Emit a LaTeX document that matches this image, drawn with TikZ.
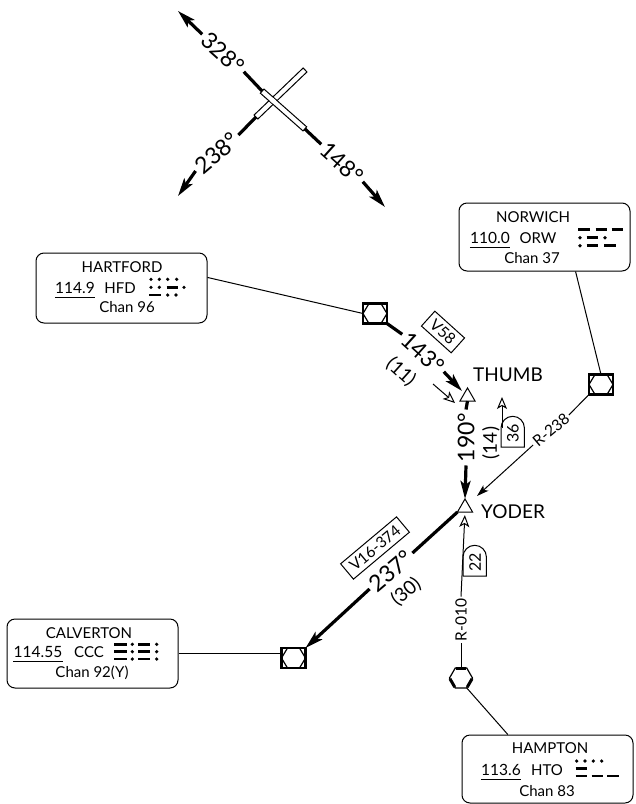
\documentclass[tikz,border=0pt]{standalone}
\usepackage{fontspec}
\setmainfont{Lato}
\usetikzlibrary{arrows.meta,shapes.geometric}
\tikzset{
    course/.style={line width=3.2pt},
    dah/.style={line width=2.8pt},
    radial/.style={line width=1pt},
    solidhead/.style={-{Stealth[length=18pt,width=10pt,inset=4pt]}},
    thinhead/.style={-{Stealth[length=12pt,width=7.5pt,inset=3pt]}},
    openhead/.style={-{Stealth[length=12pt,width=10pt,inset=3pt,fill=white]}},
    stationbox/.style={draw, line width=1pt, rounded corners=8pt, inner sep=0pt},
    stationtxt/.style={anchor=base, inner sep=0pt, font=\fontsize{15}{18}\selectfont},
    freqtxt/.style={anchor=base, inner xsep=0pt, inner ysep=4pt, font=\fontsize{15.5}{18}\selectfont},
    coursetxt/.style={inner sep=3pt, font=\fontsize{23}{25}\selectfont},
    disttxt/.style={inner sep=1pt, font=\fontsize{19}{21}\selectfont},
    airway/.style={draw, line width=1pt, inner sep=0pt, minimum height=20pt, font=\fontsize{15.5}{17}\selectfont},
    radialtxt/.style={inner sep=2pt, font=\fontsize{15.5}{17}\selectfont},
    fixtxt/.style={anchor=west, inner sep=0pt, font=\fontsize{19}{21}\selectfont},
    fixmark/.style={draw, line width=1pt, regular polygon, regular polygon sides=3, minimum size=17.5pt, inner sep=0pt, outer sep=0pt},
    strip/.style={draw, fill=white, line width=1pt, minimum height=5.5pt, inner sep=0pt, outer sep=0pt},
    vordme/.style={draw, line width=2.8pt, minimum width=24pt, minimum height=20pt, inner sep=0pt, outer sep=0pt,
        path picture={\draw[line width=1.2pt]
            ([xshift=6pt]path picture bounding box.north west) -- ([xshift=-6pt]path picture bounding box.north east)
            -- (path picture bounding box.east) -- ([xshift=-6pt]path picture bounding box.south east)
            -- ([xshift=6pt]path picture bounding box.south west) -- (path picture bounding box.west) -- cycle;}},
}
\begin{document}
\begin{tikzpicture}[x=1pt,y=-1pt]
    \useasboundingbox (0,0) rectangle (636,804);

    % Runway
    \node[strip, minimum width=68pt, rotate=43.8] (rwy b) at (280.5,93.5) {};
    \node[strip, minimum width=57pt, rotate=-41.5] (rwy a) at (283.5,110) {};
    \node[fill=white, minimum size=4.4pt, inner sep=0pt, rotate=-41.5] (rwy mid) at (273,100.7) {};

    % Runway courses
    \node[coursetxt, rotate=-42] (c328) at (223,53) {328°};
    \node[coursetxt, rotate=40] (c238) at (217,153) {238°};
    \node[coursetxt, rotate=-42] (c148) at (342,163) {148°};
    \coordinate (tip328) at (178,11);
    \coordinate (tip238) at (178,196);
    \coordinate (tip148) at (385,207);
    \draw[course] (rwy a.west) -- (c328.east);
    \draw[course, solidhead] (c328.west) -- (tip328);
    \draw[course] (rwy b.west) -- (c238.east);
    \draw[course, solidhead] (c238.west) -- (tip238);
    \draw[course] (rwy a.east) -- (c148.west);
    \draw[course, solidhead] (c148.east) -- (tip148);

    % Station boxes
    \node[stationbox, minimum width=171pt, minimum height=70pt] (hartford) at (121.5,288) {};
    \node[stationbox, minimum width=171pt, minimum height=68pt] (norwich) at (544.5,237) {};
    \node[stationbox, minimum width=171pt, minimum height=69pt] (calverton) at (92.5,653.5) {};
    \node[stationbox, minimum width=171pt, minimum height=68pt] (hampton) at (547.5,769) {};

    % Station texts
    \node[stationtxt] (hartford name) at (122,272.5) {HARTFORD};
    \node[freqtxt] (hartford freq) at (75,293) {114.9};
    \node[stationtxt] (hartford id) at (120,293) {HFD};
    \node[stationtxt] (hartford chan) at (127,312.5) {Chan 96};
    \node[stationtxt] (norwich name) at (533,222.5) {NORWICH};
    \node[freqtxt] (norwich freq) at (490,243) {110.0};
    \node[stationtxt] (norwich id) at (538,243) {ORW};
    \node[stationtxt] (norwich chan) at (532,263.5) {Chan 37};
    \node[stationtxt] (calverton name) at (89,638.5) {CALVERTON};
    \node[freqtxt] (calverton freq) at (38,657) {114.55};
    \node[stationtxt] (calverton id) at (89,657) {CCC};
    \node[stationtxt] (calverton chan) at (92,677.5) {Chan 92(Y)};
    \node[stationtxt] (hampton name) at (550,753.5) {HAMPTON};
    \node[freqtxt] (hampton freq) at (501,775) {113.6};
    \node[stationtxt] (hampton id) at (547,775) {HTO};
    \node[stationtxt] (hampton chan) at (547,796.5) {Chan 83};
    \foreach \st in {hartford,norwich,calverton,hampton} {
        \draw[line width=1pt] (\st\space freq.south west) -- (\st\space freq.south east);
    }

    % Morse idents
    \foreach \x/\y in {151/279.3,159.3/279.3,167.7/279.3,176.7/279.3,151/287.3,159.3/287.3,184/287.3,167.7/295,176/295,
        580/237.7,605/237.7,580/245.7,
        132.3/644.3,156.7/644.3,132.3/651.7,156.7/651.7,132.3/659,156.7/659,
        576.7/761,585/761,593.3/761,601.7/761} {
        \fill (\x,\y) circle (1.8);
    }
    \foreach \a/\b/\y in {166.7/178.3/287.3,149.3/160.7/295,
        578.3/590/229.3,595.7/607.3/229.3,611.7/623.3/229.3,586.7/598.3/237.7,586.7/598.3/245.7,604/615.7/245.7,
        114.3/126.7/644.3,138.3/150/644.3,114.3/126.7/651.7,138.3/150/651.7,114.3/126.7/659,138.3/150/659,
        575.7/586.7/768.3,575.7/586.7/776,591.7/602.7/776,607.3/619/776} {
        \draw[dah] (\a,\y) -- (\b,\y);
    }

    % Navaids
    \node[vordme] (hartford dme) at (375,313.5) {};
    \node[vordme] (norwich dme) at (601,384.5) {};
    \node[vordme] (calverton dme) at (293.5,658) {};
    \node[draw, line width=1.2pt, regular polygon, regular polygon sides=6, minimum size=23pt, inner sep=0pt, outer sep=0pt] (hampton vor) at (461,678) {};
    \draw[line width=3pt, shorten <=1pt, shorten >=1pt] (hampton vor.corner 1) -- (hampton vor.corner 2);
    \draw[line width=3pt, shorten <=1pt, shorten >=1pt] (hampton vor.corner 3) -- (hampton vor.corner 4);
    \draw[line width=3pt, shorten <=1pt, shorten >=1pt] (hampton vor.corner 5) -- (hampton vor.corner 6);

    % Fixes
    \node[fixmark] (thumb) at (467.5,396.7) {};
    \node[fixmark] (yoder) at (465,507.7) {};
    \node[fixtxt] (thumb name) at (473,375) {THUMB};
    \node[fixtxt] (yoder name) at (481,512) {YODER};

    % Box to navaid
    \draw[radial] (hartford.7) -- (hartford dme.west);
    \draw[radial] (norwich.-48) -- (norwich dme.north);
    \draw[radial] (calverton.east) -- (calverton.east -| calverton dme.west);
    \draw[radial] (hampton.139) -- (hampton vor.-60);

    % Airways
    \node[coursetxt, rotate=-42] (c143) at (423,353) {143°};
    \node[disttxt, rotate=-42] (d11) at (401,372) {(11)};
    \node[airway, minimum width=40pt, rotate=-42] (v58) at (443,332) {V58};
    \coordinate (tip143) at (462,391);
    \draw[course] (hartford dme.south east) -- (c143.west);
    \draw[course, solidhead] (c143.east) -- (tip143);
    \node[coursetxt, rotate=90] (c190) at (466,437.5) {190°};
    \node[disttxt, rotate=90] (d14) at (491,443) {(14)};
    \draw[course] (thumb.south) -- (c190.east);
    \draw[course, solidhead] (c190.west) -- (yoder.north);
    \node[coursetxt, rotate=40] (c237) at (391,571) {237°};
    \node[disttxt, rotate=40] (d30) at (406,592) {(30)};
    \node[airway, minimum width=73pt, rotate=40] (v16) at (375,548) {V16-374};
    \draw[course] (yoder.corner 2) -- (c237.east);
    \draw[course, solidhead] (c237.west) -- (calverton dme.north east);

    % Radials
    \node[radialtxt, rotate=40] (r238) at (551,430) {R-238};
    \coordinate (tip238r) at (477,496);
    \draw[radial] (norwich dme.south west) -- (r238.east);
    \draw[radial, thinhead] (r238.west) -- (tip238r);
    \node[radialtxt, rotate=90] (r010) at (461,620) {R-010};
    \draw[radial] (hampton vor.north) -- (r010.west);
    \draw[radial, openhead, shorten >=3pt] (r010.east) -- (yoder.south);

    % Minimum altitude tabs
    \foreach \x/\y/\t in {501/416/36,463/545/22} {
        \draw[line width=1pt] (\x,\y+31) -- (\x,\y+12) arc (180:360:11.7) -- (\x+23.4,\y+31) -- cycle;
        \node[inner sep=0pt, rotate=90, font=\fontsize{16}{18}\selectfont] (mea\t) at (\x+12,\y+17) {\t};
    }

    % Open course arrows
    \coordinate (open a) at (433,384);
    \coordinate (open b) at (455,403);
    \coordinate (open c) at (502,428);
    \coordinate (open d) at (502,397);
    \draw[radial, openhead] (open a) -- (open b);
    \draw[radial, openhead] (open c) -- (open d);
\end{tikzpicture}
\end{document}
